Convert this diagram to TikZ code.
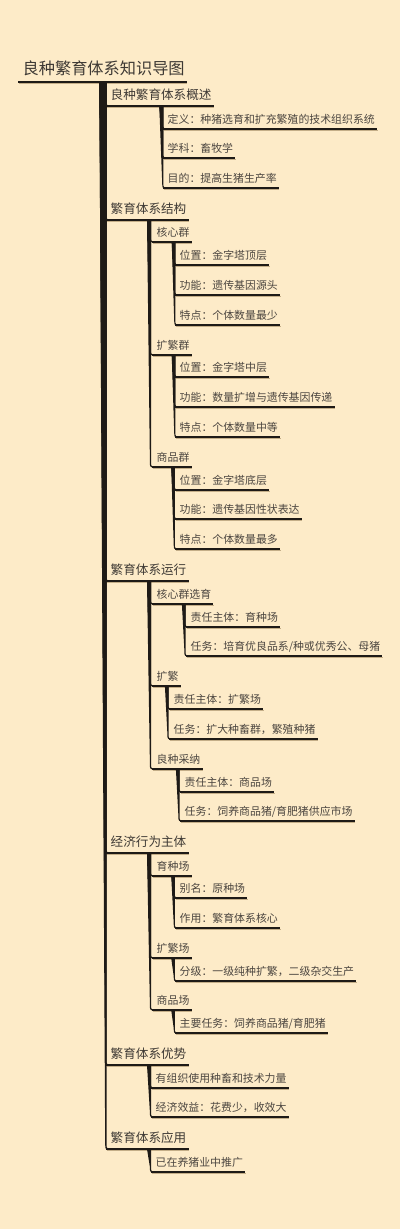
\documentclass[tikz,border=0pt]{standalone}
\usepackage{fontspec}
\setmainfont{Noto Sans CJK SC}
\usetikzlibrary{calc}
\definecolor{bgc}{HTML}{FDEBC8}
\definecolor{txtc}{HTML}{3E3934}
\definecolor{txtl}{HTML}{4C4640}
\definecolor{linec}{HTML}{1E1A16}
\definecolor{shadc}{HTML}{C4AE88}
\tikzset{
  lbl/.style={anchor=south west, inner xsep=0pt, inner ysep=0pt, text=txtc,
    execute at begin node={\hspace*{4.5pt}}, execute at end node={\hspace*{2pt}}},
  rootn/.style={lbl, font=\fontsize{16.2}{18}\selectfont, text depth=7pt, text height=12pt},
  lone/.style={lbl, font=\fontsize{12.6}{15}\selectfont, text depth=6pt, text height=10pt},
  ltwo/.style={lbl, text=txtl, font=\fontsize{10.9}{13}\selectfont, text depth=5pt, text height=9pt},
  ulin/.style={draw=linec, line width=1.2pt},
  ushad/.style={draw=shadc, line width=0.8pt}
}
% #1 branch top-right coordinate, #2 child node, #3 top width, #4 end width
\newcommand\conn[4]{%
  \fill[linec] ($(#1)+(-#3,0)$) -- ($(#1 |- #2.south west)+(-#4,-5)$)
    .. controls ($(#1 |- #2.south west)+(-#4,#4/2)$) .. ($(#1 |- #2.south west)+(5,#4/2)$)
    -- ($(#1 |- #2.south west)+(5,-#4/2)$)
    .. controls ($(#1 |- #2.south west)+(0,-#4/2)$) .. ($(#1 |- #2.south west)+(0,-5)$)
    -- (#1) -- cycle;}
\newcommand\uline[1]{%
  \draw[ushad] ($(#1.south west)+(0.5,1)$) -- ($(#1.south east)+(0.5,1)$);
  \draw[ulin] (#1.south west) -- (#1.south east);}
\begin{document}
\begin{tikzpicture}[x=1pt,y=-1pt]
\fill[bgc] (0,0) rectangle (400,1229);
\useasboundingbox (0,0) rectangle (400,1229);

% root
\node[rootn] (root) at (18,82) {良种繁育体系知识导图};

% level 1
\node[lone] (n1) at (106,106) {良种繁育体系概述};
\node[lone] (n2) at (106,220) {繁育体系结构};
\node[lone] (n3) at (106,581) {繁育体系运行};
\node[lone] (n4) at (106,853) {经济行为主体};
\node[lone] (n5) at (106,1065) {繁育体系优势};
\node[lone] (n6) at (106,1149) {繁育体系应用};

% under n1
\node[ltwo] (n11) at (163,129) {定义：种猪选育和扩充繁殖的技术组织系统};
\node[ltwo] (n12) at (163,158) {学科：畜牧学};
\node[ltwo] (n13) at (163,188) {目的：提高生猪生产率};

% under n2
\node[ltwo] (n21) at (152,242) {核心群};
\node[ltwo] (n211) at (175,265) {位置：金字塔顶层};
\node[ltwo] (n212) at (175,295) {功能：遗传基因源头};
\node[ltwo] (n213) at (175,325) {特点：个体数量最少};
\node[ltwo] (n22) at (152,355) {扩繁群};
\node[ltwo] (n221) at (175,377) {位置：金字塔中层};
\node[ltwo] (n222) at (175,407) {功能：数量扩增与遗传基因传递};
\node[ltwo] (n223) at (175,437) {特点：个体数量中等};
\node[ltwo] (n23) at (152,467) {商品群};
\node[ltwo] (n231) at (175,490) {位置：金字塔底层};
\node[ltwo] (n232) at (175,519) {功能：遗传基因性状表达};
\node[ltwo] (n233) at (175,549) {特点：个体数量最多};

% under n3
\node[ltwo] (n31) at (152,604) {核心群选育};
\node[ltwo] (n311) at (186,627) {责任主体：育种场};
\node[ltwo] (n312) at (186,656) {任务：培育优良品系/种或优秀公、母猪};
\node[ltwo] (n32) at (152,686) {扩繁};
\node[ltwo] (n321) at (169,709) {责任主体：扩繁场};
\node[ltwo] (n322) at (169,739) {任务：扩大种畜群，繁殖种猪};
\node[ltwo] (n33) at (152,769) {良种采纳};
\node[ltwo] (n331) at (180,792) {责任主体：商品场};
\node[ltwo] (n332) at (180,821) {任务：饲养商品猪/育肥猪供应市场};

% under n4
\node[ltwo] (n41) at (152,876) {育种场};
\node[ltwo] (n411) at (175,898) {别名：原种场};
\node[ltwo] (n412) at (175,928) {作用：繁育体系核心};
\node[ltwo] (n42) at (152,958) {扩繁场};
\node[ltwo] (n421) at (175,981) {分级：一级纯种扩繁，二级杂交生产};
\node[ltwo] (n43) at (152,1010) {商品场};
\node[ltwo] (n431) at (175,1033) {主要任务：饲养商品猪/育肥猪};

% under n5, n6
\node[ltwo] (n51) at (151,1088) {有组织使用种畜和技术力量};
\node[ltwo] (n52) at (151,1117) {经济效益：花费少，收效大};
\node[ltwo] (n61) at (151,1172) {已在养猪业中推广};

% underlines
\foreach \n in {root,n1,n2,n3,n4,n5,n6,n11,n12,n13,n21,n211,n212,n213,n22,n221,n222,n223,
  n23,n231,n232,n233,n31,n311,n312,n32,n321,n322,n33,n331,n332,n41,n411,n412,n42,n421,
  n43,n431,n51,n52,n61}{\uline{\n}}

% branch tops
\coordinate (b0) at (106.5,82);
\coordinate (b1) at (163.3,106);
\coordinate (b2) at (151,220);
\coordinate (b21) at (175.3,242);
\coordinate (b22) at (175.3,355);
\coordinate (b23) at (174.8,467);
\coordinate (b3) at (151,581);
\coordinate (b31) at (185.5,604);
\coordinate (b32) at (168.5,686);
\coordinate (b33) at (179.5,769);
\coordinate (b4) at (151,853);
\coordinate (b41) at (174.8,876);
\coordinate (b42) at (174.8,958);
\coordinate (b43) at (174.8,1010);
\coordinate (b5) at (151,1065);
\coordinate (b6) at (151,1149);

% connectors
\foreach \c in {n1,n2,n3,n4,n5,n6}{\conn{b0}{\c}{7.2}{1.3}}
\foreach \c in {n11,n12,n13}{\conn{b1}{\c}{4}{1.1}}
\foreach \c in {n21,n22,n23}{\conn{b2}{\c}{4}{1.1}}
\foreach \c in {n211,n212,n213}{\conn{b21}{\c}{3.6}{1.1}}
\foreach \c in {n221,n222,n223}{\conn{b22}{\c}{3.6}{1.1}}
\foreach \c in {n231,n232,n233}{\conn{b23}{\c}{3.6}{1.1}}
\foreach \c in {n31,n32,n33}{\conn{b3}{\c}{4}{1.1}}
\foreach \c in {n311,n312}{\conn{b31}{\c}{3.6}{1.1}}
\foreach \c in {n321,n322}{\conn{b32}{\c}{3.6}{1.1}}
\foreach \c in {n331,n332}{\conn{b33}{\c}{3.6}{1.1}}
\foreach \c in {n41,n42,n43}{\conn{b4}{\c}{4}{1.1}}
\foreach \c in {n411,n412}{\conn{b41}{\c}{3.6}{1.1}}
\conn{b42}{n421}{3.6}{1.1}
\conn{b43}{n431}{3.6}{1.1}
\foreach \c in {n51,n52}{\conn{b5}{\c}{4}{1.1}}
\conn{b6}{n61}{4}{1.1}
\end{tikzpicture}
\end{document}
